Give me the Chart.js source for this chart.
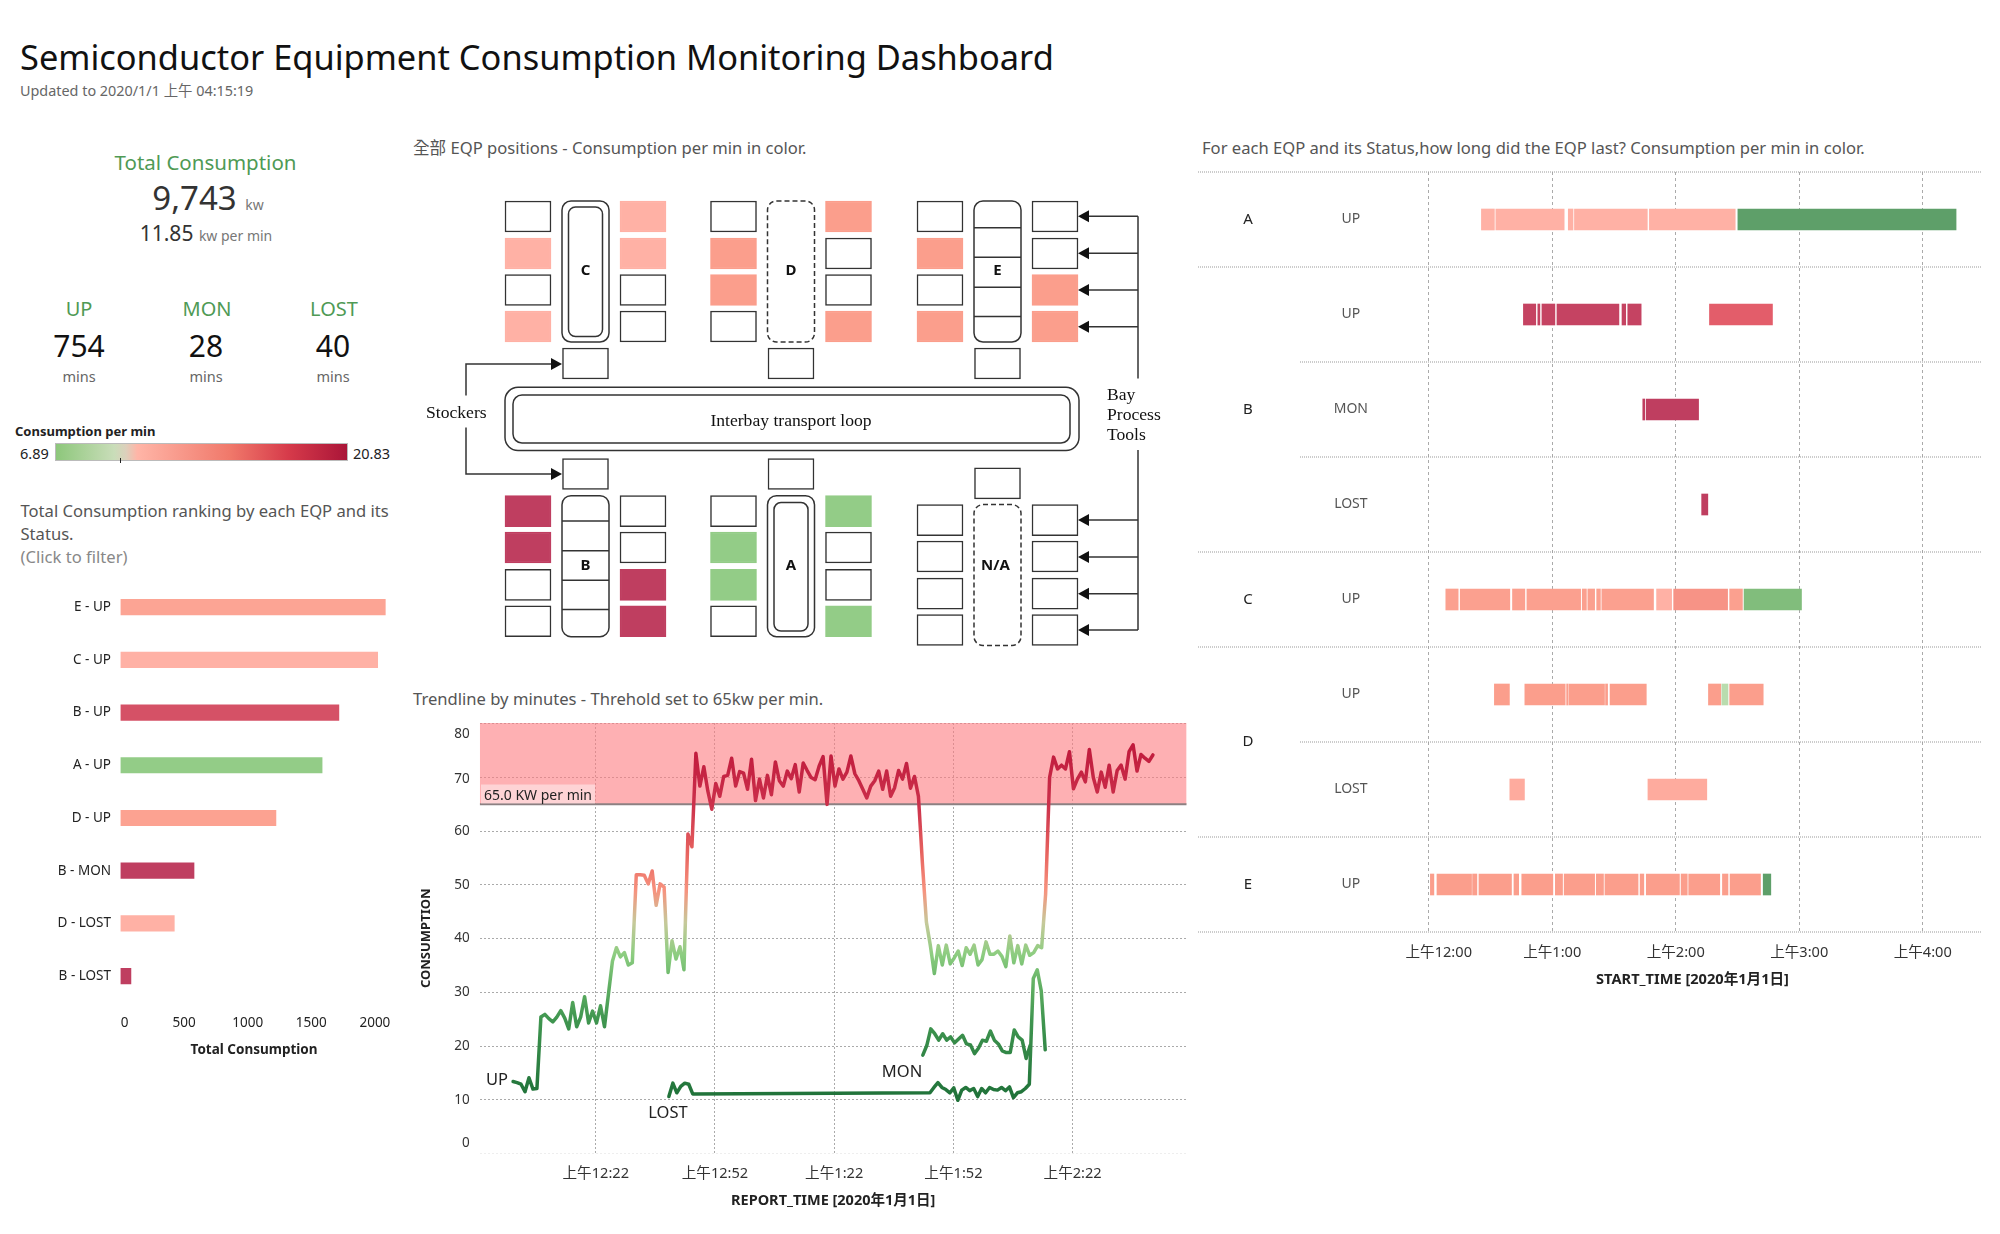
<!DOCTYPE html>
<html lang="en">
<head>
<meta charset="UTF-8">
<title>Semiconductor Equipment Consumption Monitoring Dashboard</title>
<script src="https://cdn.jsdelivr.net/npm/chart.js"></script>
<style>
  html, body { margin: 0; padding: 0; background: #fff; }
  body { width: 2000px; height: 1234px; position: relative; overflow: hidden;
         font-family: 'Noto Sans', 'Noto Sans CJK TC', sans-serif; color: #333; }
  canvas { position: absolute; display: block; }
  .t { position: absolute; white-space: nowrap; line-height: 1; transform: translateY(-50%); }
  .c { transform: translate(-50%, -50%); }
  .green { color: #4f9a55; }
  .unit { color: #777; font-size: 14px; }
  .panel { font-size: 16.6px; color: #555; }
  .lab { font-size: 16.5px; color: #222; }
</style>
</head>
<body>
  <div class="t" style="left:20px;top:57px;font-size:34.4px;color:#111" id="title">Semiconductor Equipment Consumption Monitoring Dashboard</div>
  <div class="t" style="left:20px;top:90.5px;font-size:14.4px;color:#666">Updated to 2020/1/1 上午 04:15:19</div>

  <div class="t c green" style="left:205.5px;top:161.5px;font-size:20.5px">Total Consumption</div>
  <div class="t c" style="left:208px;top:196.5px;font-size:33px"><span>9,743</span> <span class="unit">kw</span></div>
  <div class="t c" style="left:206px;top:233px;font-size:21px"><span>11.85</span> <span class="unit">kw per min</span></div>

  <div class="t c green" style="left:79px;top:309px;font-size:20px">UP</div>
  <div class="t c green" style="left:207px;top:309px;font-size:20px">MON</div>
  <div class="t c green" style="left:334px;top:309px;font-size:20px">LOST</div>
  <div class="t c" style="left:79px;top:346px;font-size:30px;color:#111">754</div>
  <div class="t c" style="left:206px;top:346px;font-size:30px;color:#111">28</div>
  <div class="t c" style="left:333px;top:346px;font-size:30px;color:#111">40</div>
  <div class="t c" style="left:79px;top:376px;font-size:14.5px;color:#666">mins</div>
  <div class="t c" style="left:206px;top:376px;font-size:14.5px;color:#666">mins</div>
  <div class="t c" style="left:333px;top:376px;font-size:14.5px;color:#666">mins</div>

  <div class="t" style="left:15px;top:431px;font-size:13px;font-weight:700;color:#222">Consumption per min</div>
  <div class="t" style="left:20px;top:453px;font-size:14.5px;color:#222">6.89</div>
  <div style="position:absolute;left:55px;top:443px;width:293px;height:18px;border:1px solid #bbb;box-sizing:border-box;
    background:linear-gradient(to right,#8dc77b 0%,#c9ddb9 20%,#dcd0bc 24%,#ffb5a7 28%,#f0786a 60%,#d63a4a 80%,#aa1538 100%)"></div>
  <div style="position:absolute;left:120px;top:458px;width:1px;height:5px;background:#222"></div>
  <div class="t" style="left:353px;top:453px;font-size:14.5px;color:#222">20.83</div>

  <div class="t" style="left:20.5px;top:511px;font-size:16.6px;color:#555">Total Consumption ranking by each EQP and its</div>
  <div class="t" style="left:20.5px;top:534px;font-size:16.6px;color:#555">Status.</div>
  <div class="t" style="left:20.5px;top:557px;font-size:16.6px;color:#888">(Click to filter)</div>

  <div class="t panel" style="left:413px;top:148px">全部 EQP positions - Consumption per min in color.</div>
  <div class="t panel" style="left:413px;top:699px">Trendline by minutes - Threhold set to 65kw per min.</div>
  <div class="t panel" style="left:1202px;top:148px">For each EQP and its Status,how long did the EQP last? Consumption per min in color.</div>

  <canvas id="rankChart" width="410" height="488" style="left:0;top:570px"></canvas>
  <canvas id="eqpChart" width="800" height="540" style="left:400px;top:130px"></canvas>
  <canvas id="trendChart" width="800" height="499" style="left:410px;top:711px"></canvas>
  <canvas id="ganttChart" width="810" height="828" style="left:1190px;top:160.5px"></canvas>

  <!-- threshold label and line names -->
  <div class="t" style="left:481px;top:794px;font-size:14px;color:#222;background:rgba(255,255,255,.45);padding:3px 3px;height:13px">65.0 KW per min</div>
  <div class="t lab" style="left:486px;top:1079px">UP</div>
  <div class="t c lab" style="left:668px;top:1112px">LOST</div>
  <div class="t c lab" style="left:902px;top:1071px">MON</div>

<script>
// ---- data ----
// ranking bars
const rankLabels = ['E - UP', 'C - UP', 'B - UP', 'A - UP', 'D - UP', 'B - MON', 'D - LOST', 'B - LOST'];
const rankTotals = [2082, 2022, 1717, 1585, 1222, 578, 423, 82];
const rankRates = [11.1, 10.4, 16.2, 7.7, 11.2, 18, 10.4, 18];
const rankTicks = [0, 500, 1000, 1500, 2000];

// trend lines, one value per minute from the start minute (minutes after midnight)
const upStart = 1.2;
const upValues = [13.4, 13.2, 12.9, 11.5, 14.1, 12.0, 12.1, 25.4, 25.9, 25.1, 24.5, 25.4, 26.6, 25.2, 23.2, 28.1,
  23.6, 25.4, 29.2, 24.3, 26.5, 24.3, 27.5, 23.6, 29.7, 35.8, 38.3, 36.6, 37.4, 35.1, 35.5, 51.9, 51.9, 51.8, 50.2,
  52.6, 46.2, 50.2, 49.6, 33.7, 39.6, 36.2, 38.5, 34.2, 59.5, 57.1, 74.5, 68.4, 72.0, 67.5, 64.1, 68.9, 66.5, 70.2,
  70.4, 73.6, 68.4, 71.1, 70.8, 67.8, 73.4, 65.7, 69.7, 66.2, 70.4, 66.8, 72.9, 69.4, 68.4, 71.2, 69.8, 72.4, 67.3,
  72.7, 71.3, 70.0, 69.6, 72.1, 73.9, 65.0, 74.0, 68.4, 71.6, 69.7, 71.0, 74.0, 70.7, 69.4, 67.8, 66.2, 68.4, 69.4,
  71.2, 67.8, 71.2, 66.5, 68.1, 71.3, 69.7, 72.6, 68.0, 70.2, 66.5, 54.0, 43.1, 38.7, 33.5, 38.7, 35.1, 38.8, 35.3,
  36.4, 37.7, 35.0, 38.3, 37.1, 38.8, 35.1, 36.1, 39.4, 37.1, 37.1, 37.7, 36.7, 34.8, 40.5, 35.5, 38.7, 35.3, 38.8,
  36.9, 37.4, 38.7, 38.3, 48.3, 70.0, 73.8, 71.6, 72.3, 71.6, 74.8, 67.9, 69.7, 71.0, 69.2, 75.2, 70.0, 67.3, 71.0,
  68.2, 72.3, 67.3, 71.3, 72.3, 69.7, 74.8, 76.1, 71.2, 74.3, 73.6, 73.0, 74.2];
const lostEarlyStart = 40.4;
const lostEarlyValues = [10.6, 13.1, 11.3, 12.5, 13.1, 12.9, 11.1];
const lostLateStart = 106.1;
const lostLateValues = [11.3, 12.3, 13.2, 12.3, 11.9, 11.3, 12.2, 9.9, 11.8, 12.3, 11.7, 12.1, 10.6, 12.1, 11.3, 12.3,
  11.9, 11.8, 12.3, 11.7, 12.4, 10.4, 11.3, 11.5, 12.1, 12.9, 32.6, 34.2, 30.3, 19.3];
const monStart = 104.3;
const monValues = [18.3, 20.1, 23.2, 22.3, 21.1, 22.3, 21.1, 21.7, 20.6, 21.3, 22.0, 20.4, 20.2, 18.6, 19.6, 21.1, 20.9,
  22.8, 21.1, 20.4, 19.1, 18.8, 18.8, 23.0, 21.7, 21.1, 17.7, 20.1];
const thresholdValue = 65;
const trendTop = 80.15;
const trendTickMinutes = [22, 52, 82, 112, 142];
const trendTickLabels = ['上午12:22', '上午12:52', '上午1:22', '上午1:52', '上午2:22'];

// gantt rows and [start minute, end minute, consumption per min]
const ganttRows = ['A UP', 'B UP', 'B MON', 'B LOST', 'C UP', 'D UP', 'D LOST', 'E UP'];
const ganttStatus = ['UP', 'UP', 'MON', 'LOST', 'UP', 'UP', 'LOST', 'UP'];
const ganttEqp = ['A', 'B', 'C', 'D', 'E'];
const ganttEqpRowCount = [1, 3, 1, 2, 1];
const aUpSpans = [[25.6, 31.9, 10.4], [32.6, 65.8, 10.4], [67.8, 70.1, 10.4], [70.8, 106.2, 10.4], [107.2, 148.9, 10.4], [150.2, 256.2, 5]];
const bUpSpans = [[46, 52, 17.5], [53, 54, 17.5], [55, 61.3, 17.5], [62.3, 92.4, 17.5], [93.9, 95.7, 17.5], [96.7, 103.2, 17.5], [136.4, 167, 15]];
const bMonSpans = [[104, 105, 18], [105.7, 131.1, 18]];
const bLostSpans = [[132.6, 135.6, 18]];
const cUpSpans = [[8.3, 14.3, 11.3], [15.3, 39.4, 11.3], [40.7, 46.7, 11.3], [47.7, 73.8, 11.3], [74.6, 76.6, 11.3], [77.3, 80.6, 11.3],
  [81.6, 83.4, 11.3], [84.1, 109.2, 11.3], [110.7, 118, 10.4], [119, 145.2, 12], [146.2, 152.4, 11.3], [153.2, 181.1, 6.8]];
const dUpSpans = [[31.9, 39.2, 11.4], [46.7, 66.3, 11.4], [67, 67.8, 11.4], [68.3, 85.4, 11.4], [85.9, 86.9, 11.4], [88.1, 105.7, 11.4],
  [135.9, 141.9, 11.4], [142.4, 145.4, 9], [146.2, 162.5, 11.4]];
const dLostSpans = [[39.4, 46.5, 10.7], [106.5, 135.1, 10.7]];
const eUpSpans = [[0.8, 2.5, 11.4], [4, 20.8, 11.4], [21.3, 23.4, 11.4], [24.4, 40.2, 11.4], [41.4, 43.7, 11.4], [45.2, 60.3, 11.4], [61.5, 65, 11.4],
  [65.8, 80.6, 11.4], [81.4, 84.9, 11.4], [85.6, 101.7, 11.4], [102.7, 104.5, 11.4], [105.7, 121.8, 11.4], [122.6, 125.6, 11.4], [126.3, 141.4, 11.4],
  [142.7, 145.4, 11.4], [146.4, 161.2, 11.4], [162.5, 166.2, 5]];
const ganttTickMinutes = [0, 60, 120, 180, 240];
const ganttTickLabels = ['上午12:00', '上午1:00', '上午2:00', '上午3:00', '上午4:00'];

// bays on the floor plan, which of the four slots on each side are in use
const bayNames = ['C', 'D', 'E', 'B', 'A', 'N/A'];
const bayRates = [10.4, 11.4, 11.4, 18, 7.7, 7.7];
const bayLeftInUse = [[1, 3], [1, 2], [1, 3], [0, 1], [1, 2], []];
const bayRightInUse = [[0, 1], [0, 3], [2, 3], [2, 3], [0, 3], []];

// ---- colour ramp for consumption per min ----
const rateStops = [[5, '#5e9f69'], [7.6, '#90cb84'], [9, '#b9dcae'], [9.9, '#e8d5c4'], [10.4, '#ffb1a5'], [11.4, '#fb9e8c'],
  [15, '#e35d6a'], [18, '#bf3e60'], [20.83, '#a81c3c']];
function hexRgb(h) { return [1, 3, 5].map(i => parseInt(h.substr(i, 2), 16)); }
function rateColor(r) {
  let i = 0;
  while (i < rateStops.length - 2 && r > rateStops[i + 1][0]) i++;
  const [r0, c0] = rateStops[i], [r1, c1] = rateStops[i + 1];
  const t = Math.min(1, Math.max(0, (r - r0) / (r1 - r0)));
  const a = hexRgb(c0), b = hexRgb(c1);
  return 'rgb(' + a.map((v, k) => Math.round(v + (b[k] - v) * t)).join(',') + ')';
}

Chart.defaults.font.family = "'Noto Sans', 'Noto Sans CJK TC', sans-serif";
Chart.defaults.font.size = 13.5;
Chart.defaults.color = '#333';
Chart.defaults.animation = false;
Chart.defaults.responsive = false;
Chart.defaults.plugins.legend.display = false;
Chart.defaults.plugins.tooltip.enabled = false;

// chart.js reserves room for half a label plus the tick padding, we want exact plot edges
function fixBox(s, size) {
  if (s.isHorizontal()) s.height = size; else s.width = size;
  s.paddingTop = s.paddingBottom = s.paddingLeft = s.paddingRight = 0;
}

// the original keeps its outer tick labels inside the view, so shift those few
function nudgeLabels(axis, shifts) {
  return {
    id: 'nudge' + axis,
    beforeDraw(chart) {
      chart.scales[axis].getLabelItems().forEach(item => {
        const d = shifts[item.label];
        if (d && !item.nudged) {
          item.options.translation = [item.options.translation[0] + (axis === 'x' ? d : 0), item.options.translation[1] + (axis === 'y' ? d : 0)];
          item.nudged = true;
        }
      });
    }
  };
}

// ---- ranking chart ----
new Chart(document.getElementById('rankChart'), {
  type: 'bar',
  data: {
    labels: rankLabels,
    datasets: [{ data: rankTotals, backgroundColor: rankRates.map(rateColor), barThickness: 15.5 }]
  },
  options: {
    indexAxis: 'y',
    layout: { padding: { top: 10.75, right: 22.4 } },
    scales: {
      y: {
        afterFit(s) { fixBox(s, 120.5); },
        grid: { display: false }, border: { display: false },
        ticks: { padding: 1.5, color: '#222' }
      },
      x: {
        min: 0, max: 2100,
        afterFit(s) { fixBox(s, 55.5); },
        afterBuildTicks(s) { s.ticks = rankTicks.map(v => ({ value: v })); },
        grid: { display: false }, border: { display: false },
        ticks: { autoSkip: false, maxRotation: 0, padding: 4.5, color: '#222', callback: v => String(v) },
        title: { display: true, text: 'Total Consumption', font: { weight: 'bold', size: 13.5 }, color: '#222', padding: 0 }
      }
    }
  },
  plugins: [nudgeLabels('x', { '0': 4 })]
});

// ---- floor plan: cells are floating bars, page pixels used as units on both scales ----
const bayX = [585.5, 791, 997.5, 585.5, 791, 997.5];
const cellStep = 57.5;
const topSlots = [[201, 232], [238, 269], [274.5, 305.5], [311, 342]];
const lowSlots = [[495.7, 526.7], [532, 563], [569.3, 600.3], [605.8, 636.7]];
const naSlots = [[504.6, 535.6], [541, 572], [578.2, 609.2], [614.7, 645.5]];
const stockerSlots = [[348, 379], [348, 379], [348, 379], [458.5, 489.5], [458.5, 489.5], [467.8, 498.8]];
const slotsOfBay = [topSlots, topSlots, topSlots, lowSlots, lowSlots, naSlots];

const eqpCells = [], eqpFill = [], eqpEdge = [];
bayNames.forEach((name, b) => {
  [[-1, bayLeftInUse[b]], [1, bayRightInUse[b]]].forEach(([side, used]) => {
    slotsOfBay[b].forEach((slot, s) => {
      const on = used.includes(s);
      eqpCells.push({ x: bayX[b] + side * cellStep, y: slot });
      eqpFill.push(on ? rateColor(bayRates[b]) : '#fff');
      eqpEdge.push(on ? rateColor(bayRates[b]) : '#333');
    });
  });
  eqpCells.push({ x: bayX[b], y: stockerSlots[b] });
  eqpFill.push('#fff');
  eqpEdge.push('#333');
});

// outlines, arrows and captions of the schematic behind the cells
const schematic = {
  id: 'schematic',
  afterDatasetsDraw(chart) {
    const c = chart.ctx;
    const X = v => chart.scales.x.getPixelForValue(v);
    const Y = v => chart.scales.y.getPixelForValue(v);
    const box = (x0, y0, x1, y1, r, dash) => {
      c.beginPath();
      c.setLineDash(dash || []);
      c.roundRect(X(x0), Y(y0), X(x1) - X(x0), Y(y1) - Y(y0), r);
      c.stroke();
      c.setLineDash([]);
    };
    const line = pts => {
      c.beginPath();
      pts.forEach((p, i) => i ? c.lineTo(X(p[0]), Y(p[1])) : c.moveTo(X(p[0]), Y(p[1])));
      c.stroke();
    };
    const head = (x, y) => {
      c.beginPath();
      c.moveTo(X(x), Y(y));
      c.lineTo(X(x + 11), Y(y - 6));
      c.lineTo(X(x + 11), Y(y + 6));
      c.closePath();
      c.fill();
    };
    const headR = (x, y) => {
      c.beginPath();
      c.moveTo(X(x), Y(y));
      c.lineTo(X(x - 11), Y(y - 6));
      c.lineTo(X(x - 11), Y(y + 6));
      c.closePath();
      c.fill();
    };
    c.save();
    c.strokeStyle = '#333';
    c.fillStyle = '#111';
    c.lineWidth = 1.5;

    // tall bays
    const W = 23.5;
    box(585.5 - W, 201, 585.5 + W, 342, 9);
    box(585.5 - 17, 207, 585.5 + 17, 336.5, 7);
    box(791 - W, 201, 791 + W, 342, 9, [5, 3]);
    box(997.5 - W, 201, 997.5 + W, 342, 9);
    [227.7, 257.3, 287.2, 316.4].forEach(y => line([[974, y], [1021, y]]));
    box(585.5 - W, 495.7, 585.5 + W, 636.7, 9);
    [521, 550.7, 580.3, 609.5].forEach(y => line([[562, y], [609, y]]));
    box(791 - W, 495.7, 791 + W, 636.7, 9);
    box(791 - 17, 502.6, 791 + 17, 631, 7);
    box(997.5 - W, 504.6, 997.5 + W, 645.5, 9, [5, 3]);

    // transport loop
    box(505, 387.3, 1079, 450.6, 13);
    box(513, 395, 1070, 443, 9);

    // stocker and tool arrows
    line([[466, 395.6], [466, 364], [551, 364]]);
    headR(562, 364);
    line([[466, 427.6], [466, 474], [551, 474]]);
    headR(562, 474);
    line([[1138, 216.3], [1138, 378.4]]);
    [216.3, 253.2, 290, 326.8].forEach(y => { line([[1138, y], [1089, y]]); head(1078, y); });
    line([[1138, 450], [1138, 630]]);
    [520, 557, 593.7, 630].forEach(y => { line([[1138, y], [1089, y]]); head(1078, y); });

    // captions
    c.textBaseline = 'middle';
    c.textAlign = 'center';
    c.fillStyle = '#111';
    c.font = "bold 15px 'Noto Sans'";
    bayNames.forEach((n, b) => c.fillText(n, X(bayX[b] - (n === 'N/A' ? 2 : 0)), Y(b < 3 ? 271 : 566)));
    c.font = "17.6px 'Liberation Serif'";
    c.fillText('Interbay transport loop', X(791), Y(421));
    c.textAlign = 'left';
    c.fillText('Stockers', X(426), Y(413));
    c.fillText('Bay', X(1107), Y(395));
    c.fillText('Process', X(1107), Y(415.5));
    c.fillText('Tools', X(1107), Y(435));
    c.restore();
  }
};

new Chart(document.getElementById('eqpChart'), {
  type: 'bar',
  data: {
    datasets: [{
      data: eqpCells,
      backgroundColor: eqpFill,
      borderColor: eqpEdge,
      borderWidth: 1.5,
      borderSkipped: false,
      barThickness: 46
    }]
  },
  options: {
    scales: {
      x: { type: 'linear', display: false, min: 400, max: 1200, offset: false },
      y: { type: 'linear', display: false, min: 130, max: 670, reverse: true }
    }
  },
  plugins: [schematic]
});

// ---- trend chart ----
const lineStops = [[10, '#1f7139'], [25, '#409650'], [31, '#5fae62'], [37, '#8ccd80'], [43, '#c6c99a'], [49, '#f7927e'], [56, '#e7635f'], [65, '#cb304b'], [76, '#c01a3c']];
function trendGradient(ctx) {
  const chart = ctx.chart;
  if (!chart.chartArea) return '#1f7139';
  const y = chart.scales.y;
  const g = chart.ctx.createLinearGradient(0, y.getPixelForValue(0), 0, y.getPixelForValue(80));
  g.addColorStop(0, lineStops[0][1]);
  lineStops.forEach(s => g.addColorStop(s[0] / 80, s[1]));
  g.addColorStop(1, lineStops[lineStops.length - 1][1]);
  return g;
}
const toPoints = (start, values) => values.map((v, i) => ({ x: start + i, y: v }));
const trendMin = -7.2, trendMax = 170.7;
const trendLine = data => ({ data, borderColor: trendGradient, borderWidth: 3.5, pointRadius: 0, tension: 0, borderJoinStyle: 'round', borderCapStyle: 'round', order: 1 });

new Chart(document.getElementById('trendChart'), {
  type: 'line',
  data: {
    datasets: [
      trendLine(toPoints(upStart, upValues)),
      trendLine(toPoints(lostEarlyStart, lostEarlyValues).concat(toPoints(lostLateStart, lostLateValues))),
      trendLine(toPoints(monStart, monValues)),
      // threshold band, from the threshold up to the top of the axis
      { data: [{ x: trendMin, y: trendTop }, { x: trendMax, y: trendTop }], borderWidth: 0, pointRadius: 0, fill: { value: thresholdValue }, backgroundColor: 'rgba(254,123,128,.6)', order: 5 },
      { data: [{ x: trendMin, y: thresholdValue }, { x: trendMax, y: thresholdValue }], borderColor: '#8c8082', borderWidth: 2, pointRadius: 0, order: 4 }
    ]
  },
  options: {
    layout: { padding: { top: 12, right: 23.3 } },
    scales: {
      x: {
        type: 'linear', min: trendMin, max: trendMax,
        afterFit(s) { fixBox(s, 56.5); },
        afterBuildTicks(s) { s.ticks = trendTickMinutes.map(v => ({ value: v })); },
        grid: { color: '#aaa', drawTicks: false },
        border: { display: false, dash: [2, 2] },
        ticks: {
          autoSkip: false, maxRotation: 0, padding: 12, color: '#333', font: { size: 14.6 },
          callback: v => trendTickLabels[trendTickMinutes.indexOf(v)]
        },
        title: { display: true, text: 'REPORT_TIME [2020年1月1日]', font: { weight: 'bold', size: 14.5 }, color: '#222', padding: 0 }
      },
      y: {
        min: 0, max: trendTop,
        afterFit(s) { fixBox(s, 69.7); },
        grid: { color: c => c.tick.value === 0 ? '#eee' : '#aaa', drawTicks: false },
        border: { display: false, dash: [2, 2] },
        ticks: { stepSize: 10, includeBounds: false, padding: 10, color: '#333' },
        title: { display: true, text: 'CONSUMPTION', font: { weight: 'bold', size: 13 }, color: '#222', padding: { top: 8, bottom: 0 } }
      }
    }
  },
  plugins: [nudgeLabels('y', { '80': 10, '70': 1.5, '0': -10 })]
});

// ---- gantt chart ----
const ganttSpans = [aUpSpans, bUpSpans, bMonSpans, bLostSpans, cUpSpans, dUpSpans, dLostSpans, eUpSpans];
const ganttBars = [], ganttColors = [];
ganttSpans.forEach((spans, r) => spans.forEach(s => {
  ganttBars.push({ x: [s[0], s[1]], y: ganttRows[r] });
  ganttColors.push(rateColor(s[2]));
}));

// row separators run out over the EQP and status columns, EQP names go in the first column
const ganttHeaders = {
  id: 'ganttHeaders',
  afterDraw(chart) {
    const c = chart.ctx, y = chart.scales.y, area = chart.chartArea;
    const rowH = y.getPixelForValue(1) - y.getPixelForValue(0);
    const edge = r => y.getPixelForValue(0) - rowH / 2 + r * rowH;
    const groupEnds = [0];
    ganttEqpRowCount.forEach(n => groupEnds.push(groupEnds[groupEnds.length - 1] + n));
    c.save();
    c.strokeStyle = '#999';
    c.lineWidth = 1;
    c.setLineDash([1, 1]);
    for (let r = 0; r <= ganttRows.length; r++) {
      c.beginPath();
      c.moveTo(groupEnds.includes(r) ? 8 : 110, edge(r));
      c.lineTo(area.right, edge(r));
      c.stroke();
    }
    c.setLineDash([]);
    c.fillStyle = '#222';
    c.font = "15px 'Noto Sans'";
    c.textAlign = 'center';
    c.textBaseline = 'middle';
    ganttEqp.forEach((n, i) => c.fillText(n, 58, edge((groupEnds[i] + groupEnds[i + 1]) / 2)));
    c.restore();
  }
};

new Chart(document.getElementById('ganttChart'), {
  type: 'bar',
  data: {
    labels: ganttRows,
    datasets: [{ data: ganttBars, backgroundColor: ganttColors, barThickness: 21 }]
  },
  options: {
    indexAxis: 'y',
    layout: { padding: { top: 11, right: 18 } },
    scales: {
      y: {
        afterFit(s) { fixBox(s, 213); },
        grid: { display: false }, border: { display: false },
        ticks: { crossAlign: 'center', padding: 27, color: '#555', font: { size: 14 }, callback: (v, i) => ganttStatus[i] }
      },
      x: {
        min: -12.5, max: 268.8,
        afterFit(s) { fixBox(s, 57); },
        afterBuildTicks(s) { s.ticks = ganttTickMinutes.map(v => ({ value: v })); },
        grid: { color: '#aaa', drawTicks: false },
        border: { display: false, dash: [3, 3] },
        ticks: {
          autoSkip: false, maxRotation: 0, padding: 12, color: '#333', font: { size: 14.6 },
          callback: v => ganttTickLabels[ganttTickMinutes.indexOf(v)]
        },
        title: { display: true, text: 'START_TIME [2020年1月1日]', font: { weight: 'bold', size: 14.6 }, color: '#222', padding: 0 }
      }
    }
  },
  plugins: [ganttHeaders, nudgeLabels('x', { '上午12:00': 10 })]
});
</script>
</body>
</html>
